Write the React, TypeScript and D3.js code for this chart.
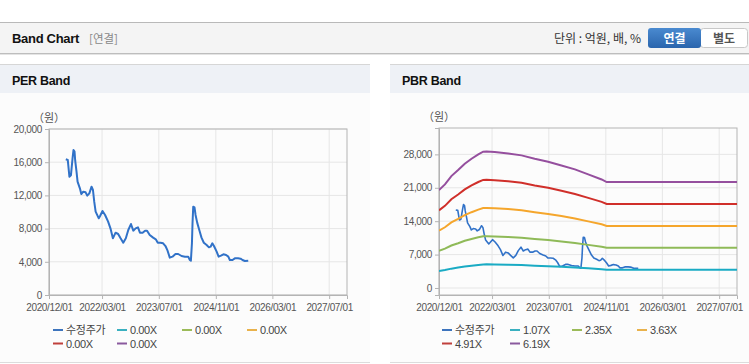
import { useEffect, useRef } from "react";
import * as d3 from "d3";

// adjusted close price (수정주가)
const priceDates = [
  "2021-04-24", "2021-05-11", "2021-05-25", "2021-06-07", "2021-06-21", "2021-06-29", "2021-07-08",
  "2021-07-14", "2021-07-25", "2021-08-03", "2021-08-23", "2021-09-04", "2021-09-21", "2021-10-11",
  "2021-10-25", "2021-11-12", "2021-12-01", "2021-12-13", "2021-12-24", "2022-01-05", "2022-02-01",
  "2022-02-12", "2022-03-05", "2022-03-27", "2022-04-22", "2022-05-12", "2022-06-02", "2022-06-25",
  "2022-07-17", "2022-08-07", "2022-08-30", "2022-09-21", "2022-10-12", "2022-11-04", "2022-11-24",
  "2022-12-14", "2023-01-03", "2023-01-20", "2023-02-12", "2023-03-05", "2023-03-22", "2023-04-14",
  "2023-05-13", "2023-06-05", "2023-06-22", "2023-07-15", "2023-08-07", "2023-08-27", "2023-09-14",
  "2023-10-03", "2023-10-26", "2023-11-21", "2023-12-14", "2024-01-12", "2024-02-10", "2024-03-09",
  "2024-03-23", "2024-04-01", "2024-04-10", "2024-04-15", "2024-04-21", "2024-05-02", "2024-05-11",
  "2024-05-25", "2024-06-12", "2024-07-01", "2024-07-21", "2024-08-14", "2024-09-03", "2024-09-17",
  "2024-10-02", "2024-10-16", "2024-11-08", "2024-11-25", "2024-12-15", "2025-01-05", "2025-01-28",
  "2025-02-16", "2025-03-01", "2025-03-24", "2025-04-13", "2025-05-11", "2025-06-01", "2025-06-18",
  "2025-07-08", "2025-08-06",
];
const priceValues = [
  16350, 16270, 14260, 14420, 16470, 17470, 17270, 16150, 14860, 13650, 12850, 12170, 12450, 12370,
  11970, 12250, 13050, 12650, 11250, 10040, 9240, 9520, 10120, 9640, 8840, 8030, 6830, 7510,
  7350, 6830, 6300, 6830, 7830, 8550, 7750, 8030, 8150, 7510, 7510, 7750, 7750, 7230,
  6910, 6710, 6300, 6300, 6230, 5900, 5340, 4500, 4620, 4940, 4940, 4700, 4620, 4620,
  4220, 4140, 6230, 8640, 10640, 10560, 9640, 8720, 7830, 6910, 6300, 6030, 5740, 5820,
  6230, 5900, 5220, 4620, 4740, 4900, 4820, 4620, 4220, 4220, 4420, 4420, 4380, 4220,
  4100, 4140,
];

// book value per share behind the PBR bands
const bpsDates = [
  "2020-12-01", "2021-01-21", "2021-03-17", "2021-05-14", "2021-07-10", "2021-09-06", "2021-11-03",
  "2021-12-15", "2022-01-13", "2022-03-24", "2022-07-17", "2022-11-09", "2023-03-02", "2023-06-25",
  "2023-10-17", "2024-02-10", "2024-06-03", "2024-09-26", "2024-11-08", "2027-12-01",
];
const bpsValues = [
  3313, 3506, 3789, 3992, 4207, 4376, 4523, 4614, 4625, 4602, 4557, 4490, 4376, 4275,
  4150, 4015, 3845, 3675, 3585, 3585,
];

const perMultiples = [0, 0, 0, 0, 0];
const pbrMultiples = [1.07, 2.35, 3.63, 4.91, 6.19];

const xDomainLabels = ["2020-12-01", "2027-12-01"];
const xTickLabels = ["2020/12/01", "2022/03/01", "2023/07/01", "2024/11/01", "2026/03/01", "2027/07/01"];
const perYTicks = [0, 4000, 8000, 12000, 16000, 20000];
const pbrYTicks = [0, 7000, 14000, 21000, 28000];
const perYDomain = [0, 20000];
const pbrYDomain = [-1470, 33530];

const priceName = "수정주가";
const priceColor = "#3172c8";
const bandColors = ["#1aabc4", "#8fba58", "#f5a62c", "#d02f2a", "#954f9e"];
const legendColors = ["#3d74bd", "#3ab0c0", "#9bbb59", "#e9b24c", "#c0403c", "#8a5a9e"];

const parseDay = d3.timeParse("%Y-%m-%d");
const parseTick = d3.timeParse("%Y/%m/%d");
const fmtTick = d3.timeFormat("%Y/%m/%d");

interface PanelCfg {
  id: string;
  left: number;
  right: number;
  top: number;
  bottom: number;
  yDomain: number[];
  yTicks: number[];
  multiples: number[];
  priceWidth: number;
  legendX: number[];
}

function drawPanel(svg: d3.Selection<SVGSVGElement, unknown, null, undefined>, cfg: PanelCfg) {
  const x = d3.scaleTime()
    .domain(xDomainLabels.map((d) => parseDay(d) as Date))
    .range([cfg.left, cfg.right]);
  const y = d3.scaleLinear().domain(cfg.yDomain).range([cfg.bottom, cfg.top]);
  const xTicks = xTickLabels.map((d) => parseTick(d) as Date);

  const g = svg.append("g");

  // grid
  g.append("g").selectAll("line").data(xTicks).join("line")
    .attr("x1", (d) => x(d)).attr("x2", (d) => x(d))
    .attr("y1", cfg.top).attr("y2", cfg.bottom)
    .attr("stroke", "#e6e6e6");
  g.append("g").selectAll("line").data(cfg.yTicks).join("line")
    .attr("x1", cfg.left).attr("x2", cfg.right)
    .attr("y1", (d) => y(d)).attr("y2", (d) => y(d))
    .attr("stroke", "#e6e6e6");

  g.append("rect")
    .attr("x", cfg.left).attr("y", cfg.top)
    .attr("width", cfg.right - cfg.left).attr("height", cfg.bottom - cfg.top)
    .attr("fill", "none").attr("stroke", "#b4b4b4");

  const yAxis = g.append("g")
    .attr("transform", `translate(${cfg.left},0)`)
    .call(d3.axisLeft(y).tickValues(cfg.yTicks).tickSize(4).tickPadding(3).tickFormat(d3.format(",")));
  const xAxis = g.append("g")
    .attr("transform", `translate(0,${cfg.bottom})`)
    .call(d3.axisBottom(x).tickValues(xTicks).tickSize(4).tickPadding(5).tickFormat((d) => fmtTick(d as Date)));
  [yAxis, xAxis].forEach((a) => {
    a.select(".domain").attr("stroke", "#b4b4b4");
    a.selectAll(".tick line").attr("stroke", "#b4b4b4");
    a.selectAll("text")
      .attr("fill", "#555")
      .style("font-family", "'Liberation Sans', Arial, sans-serif")
      .style("font-size", "10px")
      .style("letter-spacing", "-0.35px");
  });

  g.append("text")
    .attr("x", cfg.left - 16).attr("y", cfg.top - 7)
    .attr("fill", "#555")
    .style("font-family", "'Noto Sans CJK KR', sans-serif")
    .style("font-size", "11px")
    .text("（원）");

  const clipId = `clip-${cfg.id}`;
  g.append("clipPath").attr("id", clipId)
    .append("rect")
    .attr("x", cfg.left).attr("y", cfg.top)
    .attr("width", cfg.right - cfg.left).attr("height", cfg.bottom - cfg.top);

  const plot = g.append("g").attr("clip-path", `url(#${clipId})`);

  const priceData = priceDates.map((d, i) => ({ date: parseDay(d) as Date, v: priceValues[i] }));
  const line = d3.line<{ date: Date; v: number }>().x((d) => x(d.date)).y((d) => y(d.v));

  plot.append("path")
    .datum(priceData)
    .attr("fill", "none")
    .attr("stroke", priceColor)
    .attr("stroke-width", cfg.priceWidth)
    .attr("stroke-linejoin", "round")
    .attr("d", line);

  cfg.multiples.forEach((m, i) => {
    if (m <= 0) return;
    const band = bpsDates.map((d, j) => ({ date: parseDay(d) as Date, v: bpsValues[j] * m }));
    plot.append("path")
      .datum(band)
      .attr("fill", "none")
      .attr("stroke", bandColors[i])
      .attr("stroke-width", 2)
      .attr("d", line);
  });

  // legend
  const items = [priceName, ...cfg.multiples.map((m) => `${m.toFixed(2)}X`)];
  const lg = g.append("g");
  items.forEach((name, i) => {
    const lx = cfg.legendX[i];
    const ly = i < 4 ? 330 : 343.5;
    lg.append("line")
      .attr("x1", lx).attr("x2", lx + 10)
      .attr("y1", ly).attr("y2", ly)
      .attr("stroke", legendColors[i]).attr("stroke-width", 2);
    lg.append("text")
      .attr("x", lx + 13).attr("y", ly + 4)
      .attr("fill", "#444")
      .style("font-family", i === 0 ? "'Noto Sans CJK KR', sans-serif" : "'Liberation Sans', Arial, sans-serif")
      .style("font-size", "11px")
      .style("letter-spacing", i === 0 ? "-0.3px" : "-0.4px")
      .text(name);
  });
}

export default function App() {
  const svgRef = useRef<SVGSVGElement | null>(null);

  useEffect(() => {
    if (!svgRef.current) return;
    const svg = d3.select(svgRef.current);
    svg.selectAll("*").remove();

    const sans = "'Liberation Sans', Arial, sans-serif";
    const kr = "'Noto Sans CJK KR', sans-serif";

    // top bar
    svg.append("rect").attr("x", 0).attr("y", 22).attr("width", 749).attr("height", 31).attr("fill", "#f4f4f4");
    svg.append("line").attr("x1", 0).attr("x2", 749).attr("y1", 22.5).attr("y2", 22.5).attr("stroke", "#b9b9b9");
    svg.append("line").attr("x1", 0).attr("x2", 749).attr("y1", 53.5).attr("y2", 53.5).attr("stroke", "#bdbdbd");
    svg.append("line").attr("x1", 0).attr("x2", 749).attr("y1", 54.5).attr("y2", 54.5).attr("stroke", "#e4e4e4");
    svg.append("text").attr("x", 12).attr("y", 43).attr("fill", "#111")
      .style("font-family", sans).style("font-size", "13px").style("font-weight", "bold")
      .style("letter-spacing", "-0.3px").text("Band Chart");
    svg.append("text").attr("x", 89).attr("y", 43).attr("fill", "#888")
      .style("font-family", kr).style("font-size", "11.5px").text("[연결]");
    svg.append("text").attr("x", 641).attr("y", 43).attr("fill", "#333").attr("text-anchor", "end")
      .style("font-family", kr).style("font-size", "12px").text("단위 : 억원, 배, %");

    // 연결 / 별도 toggle
    const grad = svg.append("defs").append("linearGradient").attr("id", "btnBlue")
      .attr("x1", 0).attr("x2", 0).attr("y1", 0).attr("y2", 1);
    grad.append("stop").attr("offset", "0%").attr("stop-color", "#4a8ad0");
    grad.append("stop").attr("offset", "100%").attr("stop-color", "#2a65ad");
    svg.append("rect").attr("x", 700.5).attr("y", 28.5).attr("width", 47).attr("height", 19)
      .attr("rx", 3).attr("fill", "#fff").attr("stroke", "#c8c8c8");
    svg.append("rect").attr("x", 648).attr("y", 28).attr("width", 53).attr("height", 20)
      .attr("rx", 3).attr("fill", "url(#btnBlue)");
    svg.append("text").attr("x", 674.5).attr("y", 42.5).attr("text-anchor", "middle").attr("fill", "#fff")
      .style("font-family", kr).style("font-size", "12px").style("font-weight", "bold").text("연결");
    svg.append("text").attr("x", 724).attr("y", 42.5).attr("text-anchor", "middle").attr("fill", "#555")
      .style("font-family", kr).style("font-size", "12px").style("font-weight", "bold").text("별도");

    // panels
    const panels = [
      { x0: 0, x1: 370, title: "PER Band" },
      { x0: 390, x1: 749, title: "PBR Band" },
    ];
    panels.forEach((p) => {
      svg.append("rect").attr("x", p.x0).attr("y", 64).attr("width", p.x1 - p.x0).attr("height", 299).attr("fill", "#fcfcfc");
      svg.append("rect").attr("x", p.x0).attr("y", 64).attr("width", p.x1 - p.x0).attr("height", 29).attr("fill", "#eef1f6");
      svg.append("line").attr("x1", p.x0).attr("x2", p.x1).attr("y1", 64.5).attr("y2", 64.5).attr("stroke", "#d6d6d6");
      svg.append("line").attr("x1", p.x0).attr("x2", p.x1).attr("y1", 362.5).attr("y2", 362.5).attr("stroke", "#dcdcdc");
      svg.append("text").attr("x", p.x0 + 12).attr("y", 85).attr("fill", "#111")
        .style("font-family", sans).style("font-size", "12.5px").style("font-weight", "bold")
        .style("letter-spacing", "-0.3px").text(p.title);
    });

    drawPanel(svg, {
      id: "per", left: 49, right: 347, top: 129, bottom: 295,
      yDomain: perYDomain, yTicks: perYTicks, multiples: perMultiples,
      priceWidth: 2, legendX: [53, 117, 182, 247, 53, 117],
    });
    drawPanel(svg, {
      id: "pbr", left: 439, right: 737, top: 128, bottom: 295,
      yDomain: pbrYDomain, yTicks: pbrYTicks, multiples: pbrMultiples,
      priceWidth: 1.6, legendX: [442, 510, 572, 637, 442, 510],
    });
  }, []);

  return (
    <>
      <style>{`body{margin:0}`}</style>
      <svg ref={svgRef} width={749} height={364} style={{ display: "block", background: "#fff" }} />
    </>
  );
}
